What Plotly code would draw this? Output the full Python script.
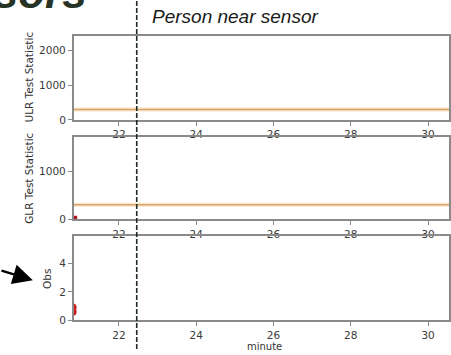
import plotly.graph_objects as go

# ---- data ----
thr_minute = [20.0, 32.0]
ulr_threshold = [300, 300]
glr_threshold = [300, 300]
glr_minute = [20.84]
glr_values = [10]
obs_minute = [20.80, 20.80]
obs_values = [0.62, 0.92]
event_minute = 22.46
x_ticks = [22, 24, 26, 28, 30]

W, H = 451, 355
def px(x):
    return x / W
def py(y):
    return 1 - y / H

fig = go.Figure()

grey = "#8a8a8a"
tick_font = dict(family="DejaVu Sans", size=10.5, color="#3a3a3a")
thr_color = "#d9a36a"
halo = "#f6e7cc"

# threshold lines (halo + line)
for xa, ya, thr in [("x", "y", ulr_threshold), ("x2", "y2", glr_threshold)]:
    fig.add_trace(go.Scatter(x=thr_minute, y=thr, mode="lines", xaxis=xa, yaxis=ya,
                             line=dict(color=halo, width=4), hoverinfo="skip", showlegend=False))
    fig.add_trace(go.Scatter(x=thr_minute, y=thr, mode="lines", xaxis=xa, yaxis=ya,
                             line=dict(color=thr_color, width=1.5), hoverinfo="skip", showlegend=False))

fig.add_trace(go.Scatter(x=glr_minute, y=glr_values, mode="markers", xaxis="x2", yaxis="y2",
                         marker=dict(color="#b5141c", size=6, symbol="square"), showlegend=False))
fig.add_trace(go.Scatter(x=obs_minute, y=obs_values, mode="markers", xaxis="x3", yaxis="y3",
                         marker=dict(color="#d01c1c", size=8), showlegend=False))

xr = [20.828, 30.541]
xdom = [px(74), 1.0]
def xaxis(anchor):
    return dict(domain=xdom, range=xr, anchor=anchor, tickvals=x_ticks, ticks="outside",
                ticklen=4, tickcolor=grey, showline=True, linecolor=grey, linewidth=1.5,
                mirror=True, showgrid=False, zeroline=False, tickfont=tick_font)
def yaxis(anchor, dom, rng, tv):
    return dict(domain=dom, range=rng, anchor=anchor, tickvals=tv, ticks="outside",
                ticklen=4, tickcolor=grey, showline=True, linecolor=grey, linewidth=1.5,
                mirror=True, showgrid=False, zeroline=False, tickfont=tick_font)

fig.update_layout(
    width=W, height=H, margin=dict(l=0, r=0, t=0, b=0),
    paper_bgcolor="white", plot_bgcolor="white", showlegend=False,
    xaxis=xaxis("y"), xaxis2=xaxis("y2"), xaxis3=xaxis("y3"),
    yaxis=yaxis("x", [py(122), py(37)], [0, 2400], [0, 1000, 2000]),
    yaxis2=yaxis("x2", [py(223), py(139)], [0, 1720], [0, 1000]),
    yaxis3=yaxis("x3", [py(326), py(240)], [0, 5.93], [0, 2, 4]),
)

# event line
fig.add_shape(type="line", xref="x", yref="paper", x0=event_minute, x1=event_minute,
              y0=0, y1=1, line=dict(color="#1f2a22", width=1.6, dash="5px,2px"))

title_font = dict(family="DejaVu Sans", size=10.5, color="#333333")
anns = [
    dict(text="ULR Test Statistic", x=px(29), y=py(78)),
    dict(text="GLR Test Statistic", x=px(29), y=py(181)),
    dict(text="Obs", x=px(47), y=py(284)),
]
for a in anns:
    fig.add_annotation(text=a["text"], x=a["x"], y=a["y"], xref="paper", yref="paper",
                       textangle=-90, showarrow=False, font=title_font,
                       xanchor="center", yanchor="middle")
fig.add_annotation(text="minute", x=px(266), y=0, xref="paper", yref="paper",
                   showarrow=False, font=dict(family="DejaVu Sans", size=10, color="#333333"),
                   xanchor="center", yanchor="bottom", yshift=-4, borderpad=0)

fig.add_annotation(text="<b><i>Sensors</i></b>", x=px(89), y=py(19), xref="paper", yref="paper",
                   showarrow=False, xanchor="right", yanchor="bottom",
                   font=dict(family="Liberation Sans", size=44, color="#263326"))
fig.add_annotation(text="<i>Person near sensor</i>", x=px(151), y=py(30), xref="paper", yref="paper",
                   showarrow=False, xanchor="left", yanchor="bottom",
                   font=dict(family="Liberation Sans", size=19, color="#1a1a1a"))

# arrow
fig.add_annotation(text="", x=px(33), y=py(285), xref="paper", yref="paper",
                   ax=-34, ay=-10, axref="pixel", ayref="pixel", showarrow=True,
                   arrowhead=2, arrowsize=1.6, arrowwidth=2.5, arrowcolor="black")

fig.write_html("out.html", config={"displayModeBar": False},
               post_script="document.body.style.margin='0';document.body.style.overflow='hidden';")
